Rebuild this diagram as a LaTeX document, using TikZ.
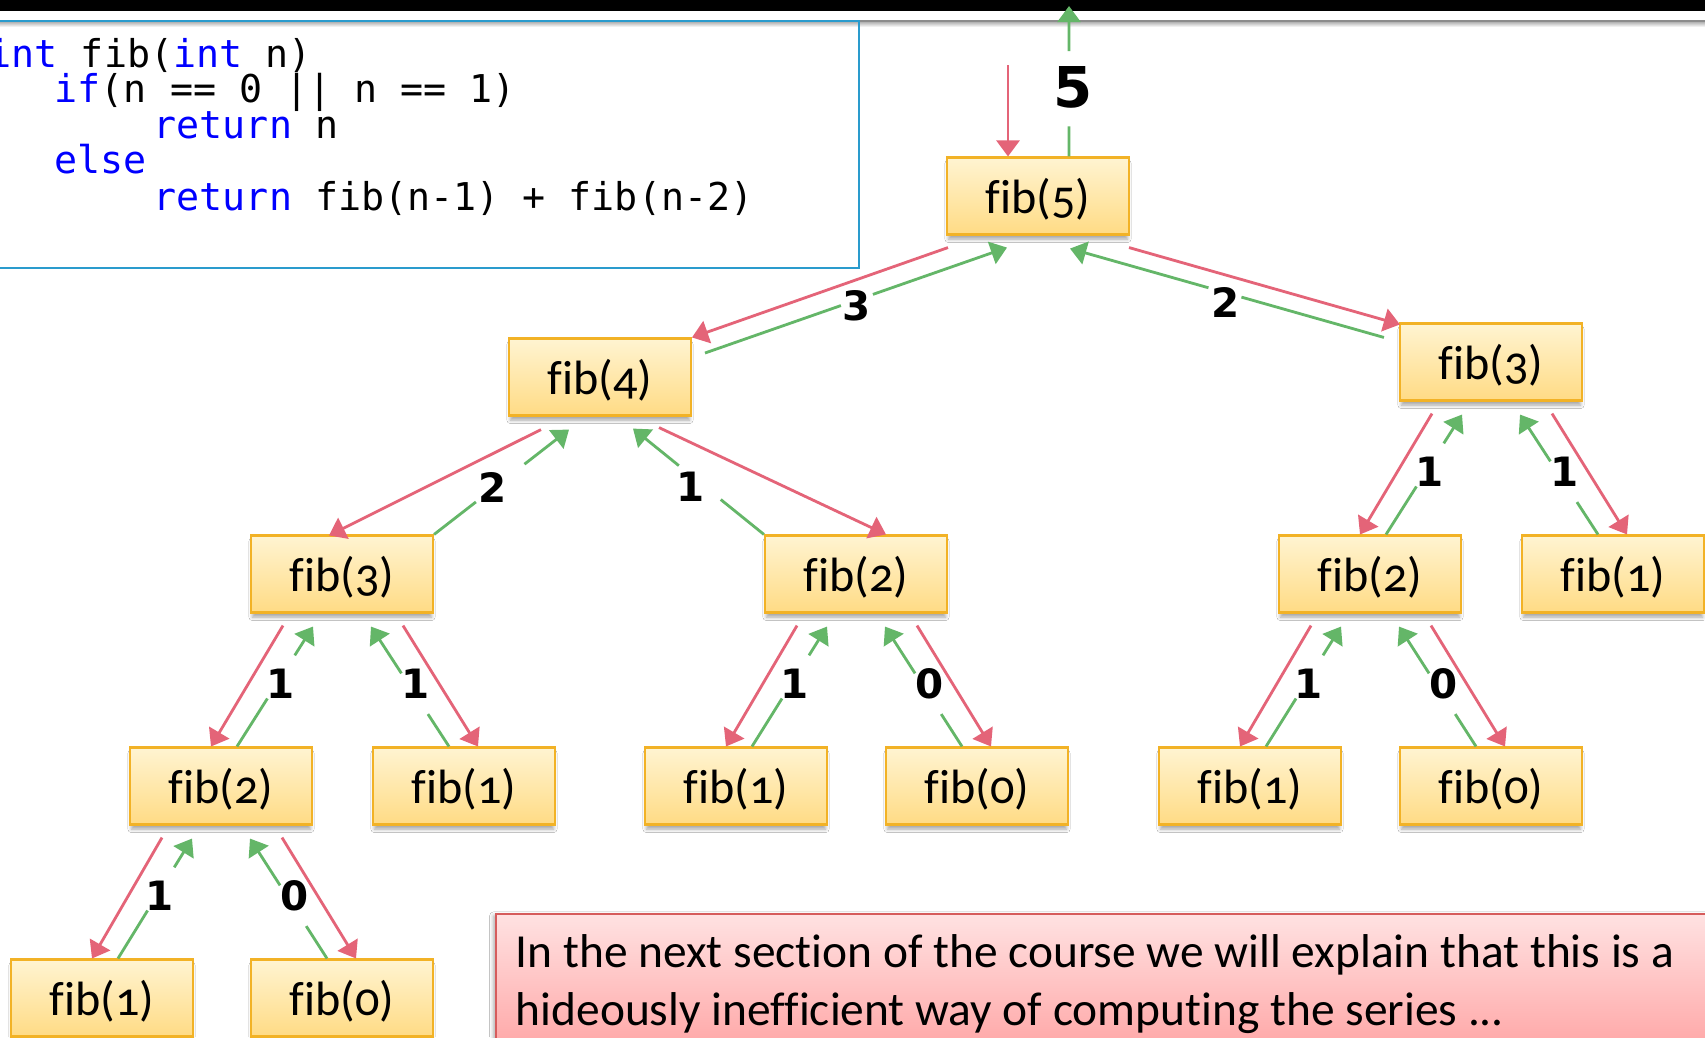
\documentclass[tikz,border=0pt]{standalone}
\usepackage{fontspec}
\setmainfont[Ligatures=NoCommon]{Carlito}
\newfontfamily\boxfont[Numbers=OldStyle,Ligatures=NoCommon]{Carlito}
\newfontfamily\codefont{DejaVu Sans Mono}
\newfontfamily\numfont{DejaVu Sans}
\usetikzlibrary{arrows.meta,calc,shadows.blur}

\definecolor{boxtop}{RGB}{255,244,210}
\definecolor{boxbot}{RGB}{255,219,132}
\definecolor{boxedge}{RGB}{242,178,38}
\definecolor{callred}{RGB}{228,100,120}
\definecolor{retgreen}{RGB}{100,182,104}
\definecolor{kwblue}{RGB}{0,0,255}
\definecolor{codeedge}{RGB}{42,155,205}
\definecolor{notetop}{RGB}{255,226,226}
\definecolor{notebot}{RGB}{255,160,160}
\definecolor{noteedge}{RGB}{214,92,92}

\newcommand\kwd[1]{\textcolor{kwblue}{#1}}
% box caption, set a little lower than plain centring would put it
\newcommand\fibtext[1]{\raisebox{-0.9pt}[\height][\depth]{#1}}

% call goes down to the left child, value comes back up
\newcommand\leftpair[3]{%
  \draw[callline] ($(#1.south)+(-59,12)$) -- ($(#2.north)+(-10,0)$);
  \coordinate (gs) at ($(#2.north)+(16,0)$);
  \coordinate (ge) at ($(#1.south)+(-29,13)$);
  \draw[retline] (gs) -- ($(gs)!0.40!(ge)$) ($(gs)!0.76!(ge)$) -- (ge);
  \node[numlabel] at ($(#1.south)+(-61,70)$) {#3};
}
% call goes down to the right child, value comes back up
\newcommand\rightpair[3]{%
  \draw[callline] ($(#1.south)+(61,12)$) -- ($(#2.north)+(14,0)$);
  \coordinate (gs) at ($(#2.north)+(-15,0)$);
  \coordinate (ge) at ($(#1.south)+(29,13)$);
  \draw[retline] (gs) -- ($(gs)!0.27!(ge)$) ($(gs)!0.61!(ge)$) -- (ge);
  \node[numlabel] at ($(#1.south)+(74,70)$) {#3};
}

\begin{document}
\begin{tikzpicture}[x=0.1mm,y=-0.1mm,
  fibbox/.style={draw=boxedge, line width=0.6pt, top color=boxtop, bottom color=boxbot,
    minimum width=18.2mm, minimum height=7.7mm, inner sep=0pt,
    font=\boxfont\fontsize{13.7}{15}\selectfont,
    blur shadow={shadow xshift=0pt, shadow yshift=-1.5pt, shadow blur radius=1pt,
      shadow scale=0.985, shadow opacity=35}},
  callline/.style={draw=callred, line width=0.8pt, -{Triangle[length=4.6pt,width=6.6pt]}},
  retline/.style={draw=retgreen, line width=0.8pt, -{Triangle[length=4.6pt,width=6.6pt]}},
  numlabel/.style={inner sep=0pt, font=\numfont\bfseries\fontsize{11.5}{13}\selectfont},
  biglabel/.style={inner sep=0pt, font=\numfont\bfseries\fontsize{16}{18}\selectfont},
  codeline/.style={anchor=base west, inner sep=0pt, font=\codefont\fontsize{10.9}{13}\selectfont},
  notetext/.style={anchor=base west, inner sep=0pt, font=\fontsize{13.5}{16}\selectfont},
]
\useasboundingbox (0,0) rectangle (1705,1037);
\fill[white] (0,0) rectangle (1705,1037);

% title bar and separator
\fill[black] (0,0) rectangle (1705,11);
\shade[top color=black!35, bottom color=white] (0,21) rectangle (1705,27);
\fill[black!45] (0,19.5) rectangle (1705,21.5);

% code listing
\draw[codeedge, line width=0.6pt] (-20,21) rectangle (859,268);
\node[codeline] (c1) at (-12,67) {\kwd{int} fib(\kwd{int} n)};
\node[codeline] (c2) at (54,102) {\kwd{if}(n == 0 || n == 1)};
\node[codeline] (c3) at (153,138) {\kwd{return} n};
\node[codeline] (c4) at (54,173) {\kwd{else}};
\node[codeline] (c5) at (153,210) {\kwd{return} fib(n-1) + fib(n-2)};

% call tree
\node[fibbox] (f5)  at (1038,196) {\fibtext{fib(5)}};
\node[fibbox] (f4)  at (600,377)  {\fibtext{fib(4)}};
\node[fibbox] (f3r) at (1491,362) {\fibtext{fib(3)}};
\node[fibbox] (f3l) at (342,574)  {\fibtext{fib(3)}};
\node[fibbox] (f2m) at (856,574)  {\fibtext{fib(2)}};
\node[fibbox] (f2r) at (1370,574) {\fibtext{fib(2)}};
\node[fibbox] (f1r) at (1613,574) {\fibtext{fib(1)}};
\node[fibbox] (f2l) at (221,786)  {\fibtext{fib(2)}};
\node[fibbox] (f1a) at (464,786)  {\fibtext{fib(1)}};
\node[fibbox] (f1b) at (736,786)  {\fibtext{fib(1)}};
\node[fibbox] (f0b) at (977,786)  {\fibtext{fib(0)}};
\node[fibbox] (f1c) at (1250,786) {\fibtext{fib(1)}};
\node[fibbox] (f0c) at (1491,786) {\fibtext{fib(0)}};
\node[fibbox] (f1d) at (102,998)  {\fibtext{fib(1)}};
\node[fibbox] (f0d) at (342,998)  {\fibtext{fib(0)}};

% entry into fib(5) and its result
\coordinate (callin) at (1008,65);
\coordinate (retout) at (1069,6);
\draw[callline] (callin) -- (callin |- f5.north);
\coordinate (gs) at ($(f5.north)+(31,0)$);
\draw[retline] (gs) -- ($(gs)!0.2!(retout)$) ($(gs)!0.7!(retout)$) -- (retout);
\node[biglabel] at (1073,87) {5};

% fib(5) -> fib(4)
\draw[callline] ($(f5.south)+(-90,12)$) -- ($(f4.north)+(92,0)$);
\coordinate (gs) at ($(f4.center)+(105,-24)$);
\coordinate (ge) at ($(f5.south)+(-31,12)$);
\draw[retline] (gs) -- ($(gs)!0.45!(ge)$) ($(gs)!0.556!(ge)$) -- (ge);
\node[numlabel] at (857,306) {3};

% fib(5) -> fib(3)
\draw[callline] ($(f5.south)+(91,12)$) -- ($(f3r.north west)+(1,2)$);
\coordinate (gs) at ($(f3r.north west)+(-15,15)$);
\coordinate (ge) at ($(f5.south)+(32,13)$);
\draw[retline] (gs) -- ($(gs)!0.454!(ge)$) ($(gs)!0.559!(ge)$) -- (ge);
\node[numlabel] at (1226,302) {2};

% fib(4) -> fib(3)
\draw[callline] ($(f4.south)+(-59,13)$) -- ($(f3l.north)+(-13,1)$);
\coordinate (gs) at (f3l.north east);
\coordinate (ge) at ($(f4.south)+(-31,13)$);
\draw[retline] (gs) -- ($(gs)!0.31!(ge)$) ($(gs)!0.67!(ge)$) -- (ge);
\node[numlabel] at (493,487) {2};

% fib(4) -> fib(2)
\draw[callline] ($(f4.south)+(59,11)$) -- ($(f2m.north)+(30,0)$);
\coordinate (gs) at (f2m.north west);
\coordinate (ge) at ($(f4.south)+(33,12)$);
\draw[retline] (gs) -- ($(gs)!0.33!(ge)$) ($(gs)!0.65!(ge)$) -- (ge);
\node[numlabel] at (691,487) {1};

% lower levels
\leftpair{f3r}{f2r}{1}
\rightpair{f3r}{f1r}{1}
\leftpair{f3l}{f2l}{1}
\rightpair{f3l}{f1a}{1}
\leftpair{f2m}{f1b}{1}
\rightpair{f2m}{f0b}{0}
\leftpair{f2r}{f1c}{1}
\rightpair{f2r}{f0c}{0}
\leftpair{f2l}{f1d}{1}
\rightpair{f2l}{f0d}{0}

% note
\node[draw=noteedge, line width=0.5pt, top color=notetop, bottom color=notebot,
  minimum width=124mm, minimum height=15mm, anchor=north west, inner sep=0pt,
  blur shadow={shadow xshift=-0.6pt, shadow yshift=-0.6pt, shadow blur radius=1.2pt, shadow opacity=35}]
  (note) at (495,913) {};
\node[notetext] (n1) at (515,967) {In the next section of the course we will explain that this is a};
\node[notetext] (n2) at (515,1025) {hideously inefficient way of computing the series ...};
\end{tikzpicture}
\end{document}
